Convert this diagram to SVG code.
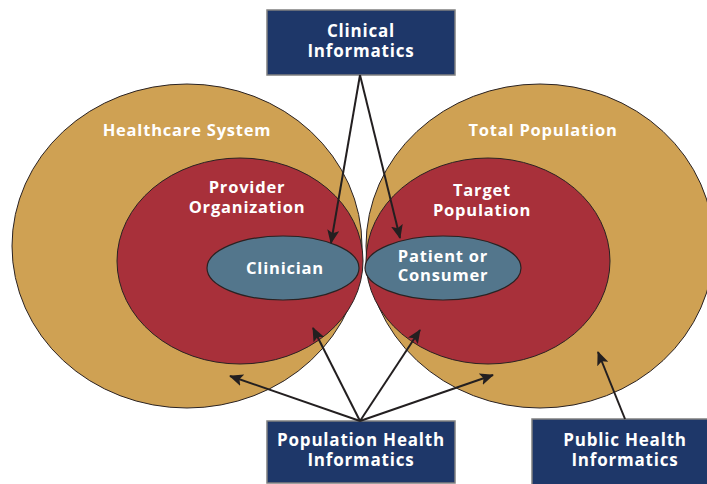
<svg xmlns="http://www.w3.org/2000/svg" width="707" height="484" viewBox="0 0 707 484">
<style>
.tan{fill:#CFA153;stroke:#2a2222;stroke-width:1}
.red{fill:#A8303A;stroke:#2a2222;stroke-width:1}
.blu{fill:#53768C;stroke:#2a2222;stroke-width:1.2}
.box{fill:#1E3769;stroke:#808080;stroke-width:1.5}
.t{font-family:"Open Sans","Liberation Sans",sans-serif;font-weight:700;fill:#ffffff;text-anchor:middle;letter-spacing:0.8px}
.s17{font-size:17px}
.s16{font-size:16.5px}
.arr{stroke:#231f20;stroke-width:2;fill:none;marker-end:url(#ah)}
</style>
<defs>
<marker id="ah" markerUnits="userSpaceOnUse" markerWidth="14" markerHeight="12" refX="13" refY="6" orient="auto">
<path d="M0,0 L14,6 L0,12 L3,6 Z" fill="#231f20"/>
</marker>
</defs>
<g id="healthcare-system">
<ellipse class="tan" cx="187" cy="246" rx="175" ry="162"/>
<text class="t s16" x="187" y="136">Healthcare System</text>
</g>
<g id="total-population">
<ellipse class="tan" cx="540" cy="246" rx="174" ry="162"/>
<text class="t s16" x="543" y="136">Total Population</text>
</g>
<g id="provider-organization">
<ellipse class="red" cx="240" cy="261" rx="123" ry="103"/>
<text class="t s16" x="247" y="193">Provider</text>
<text class="t s16" x="247" y="213">Organization</text>
</g>
<g id="target-population">
<ellipse class="red" cx="488" cy="261" rx="122" ry="103"/>
<text class="t s16" x="482" y="196">Target</text>
<text class="t s16" x="482" y="216">Population</text>
</g>
<g id="clinician">
<ellipse class="blu" cx="283" cy="268" rx="76" ry="32"/>
<text class="t s16" x="285" y="274">Clinician</text>
</g>
<g id="patient-or-consumer">
<ellipse class="blu" cx="443" cy="268" rx="78" ry="32"/>
<text class="t s16" x="443" y="262">Patient or</text>
<text class="t s16" x="443" y="281">Consumer</text>
</g>
<g id="clinical-informatics">
<rect class="box" x="267" y="10" width="188" height="65"/>
<text class="t s17" x="361" y="37">Clinical</text>
<text class="t s17" x="361" y="57">Informatics</text>
</g>
<g id="population-health-informatics">
<rect class="box" x="267" y="421" width="188" height="62"/>
<text class="t s17" x="361" y="446">Population Health</text>
<text class="t s17" x="361" y="466">Informatics</text>
</g>
<g id="public-health-informatics">
<rect class="box" x="532" y="419" width="180" height="66"/>
<text class="t s17" x="625" y="446">Public Health</text>
<text class="t s17" x="625" y="466">Informatics</text>
</g>
<g id="connectors">
<line class="arr" x1="360" y1="75" x2="331" y2="243"/>
<line class="arr" x1="360" y1="75" x2="400" y2="238"/>
<line class="arr" x1="360" y1="421" x2="230" y2="376"/>
<line class="arr" x1="360" y1="421" x2="313" y2="328"/>
<line class="arr" x1="360" y1="421" x2="420" y2="330"/>
<line class="arr" x1="360" y1="421" x2="493" y2="375"/>
<line class="arr" x1="625" y1="419" x2="598" y2="352"/>
</g>
</svg>
